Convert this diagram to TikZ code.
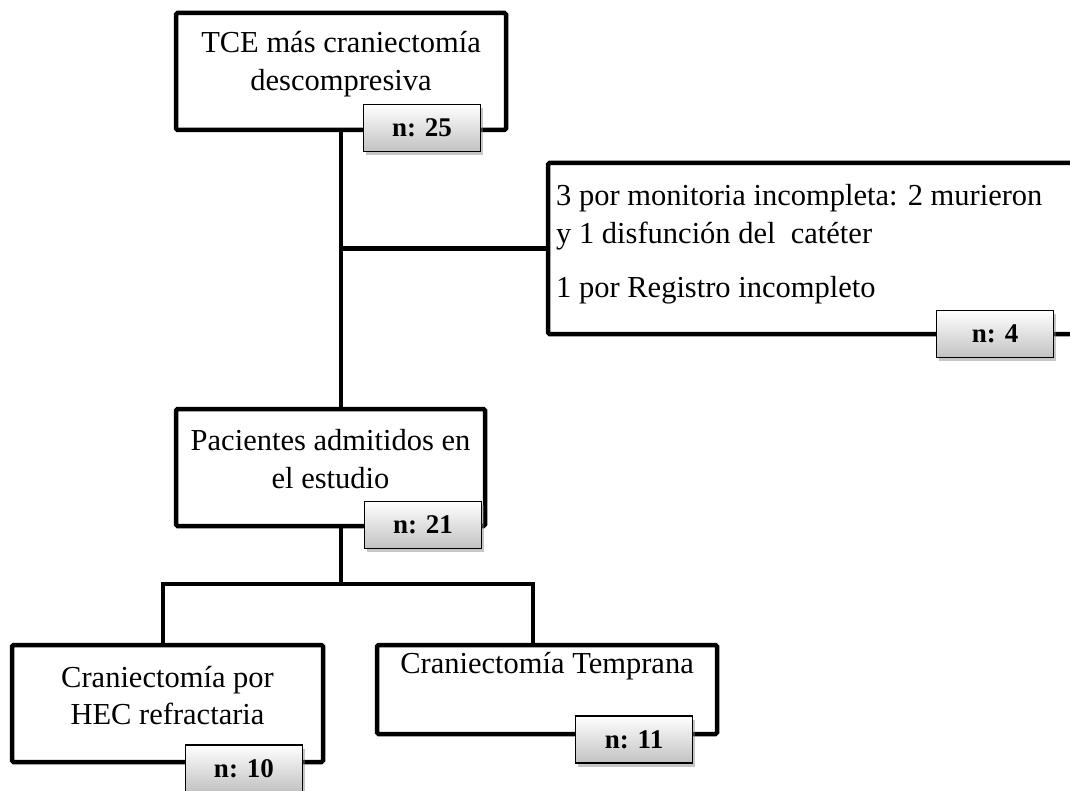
\documentclass[tikz,border=0pt]{standalone}
\usepackage{fontspec}
\setmainfont{Liberation Serif}
\usetikzlibrary{shadows,backgrounds}
\begin{document}
\begin{tikzpicture}[x=1pt,y=-1pt,
  box/.style={draw=black, line width=4.5pt, fill=white, rounded corners=1.5pt, inner sep=0pt,
    drop shadow={shadow xshift=1.5pt, shadow yshift=-1.5pt, opacity=0.2}},
  nbox/.style={draw=black, line width=1.6pt, top color=white, bottom color=black!24, inner sep=0pt,
    minimum width=117pt, minimum height=47pt, font=\fontsize{27}{30}\selectfont\bfseries,
    drop shadow={shadow xshift=2pt, shadow yshift=-3.5pt, opacity=0.45}},
  txt/.style={font=\fontsize{30.5}{36}\selectfont, inner sep=0pt, anchor=base},
  ltxt/.style={txt, anchor=base west},
  link/.style={line width=4.5pt}]
\useasboundingbox (0,0) rectangle (1070,791);

% main boxes
\node[box, minimum width=330pt, minimum height=117pt] (tce) at (341,71.5) {};
\node[txt] (tce1) at (341,53) {TCE más craniectomía};
\node[txt] (tce2) at (341,91) {descompresiva};
\node[nbox] (n25) at (422,128) {n: 25};

\node[box, minimum width=527pt, minimum height=171pt] (exc) at (811.5,248.5) {};
\node[ltxt] (exc1) at (556,206) {3 por monitoria incompleta: 2 murieron};
\node[ltxt] (exc2) at (556,244) {y 1 disfunción del\ \ catéter};
\node[ltxt] (exc3) at (556,298) {1 por Registro incompleto};
\node[nbox] (n4) at (995,334) {n: 4};

\node[box, minimum width=309pt, minimum height=117pt] (pac) at (330.5,467.5) {};
\node[txt] (pac1) at (330.5,450) {Pacientes admitidos en};
\node[txt] (pac2) at (330.5,488) {el estudio};
\node[nbox] (n21) at (423,525) {n: 21};

\node[box, minimum width=311pt, minimum height=117pt] (hec) at (167.5,703.5) {};
\node[txt] (hec1) at (167.5,687) {Craniectomía por};
\node[txt] (hec2) at (167.5,724) {HEC refractaria};
\node[nbox] (n10) at (244,768.5) {n: 10};

\node[box, minimum width=340pt, minimum height=89pt] (tem) at (547,689.5) {};
\node[txt] (tem1) at (547,673) {Craniectomía Temprana};
\node[nbox] (n11) at (634,739.5) {n: 11};

% connectors
\begin{scope}[on background layer]
  \coordinate (split) at (341,584);
  \draw[link] (tce.south) -- (tce.south |- pac.north);
  \draw[link] (tce.south |- exc.west) -- (exc.west);
  \draw[link] (pac.south -| split) -- (split);
  \draw[link] ([xshift=-4.5pt]hec.north) |- (split);
  \draw[link] (split) -| ([xshift=-14pt]tem.north);
\end{scope}
\end{tikzpicture}
\end{document}
